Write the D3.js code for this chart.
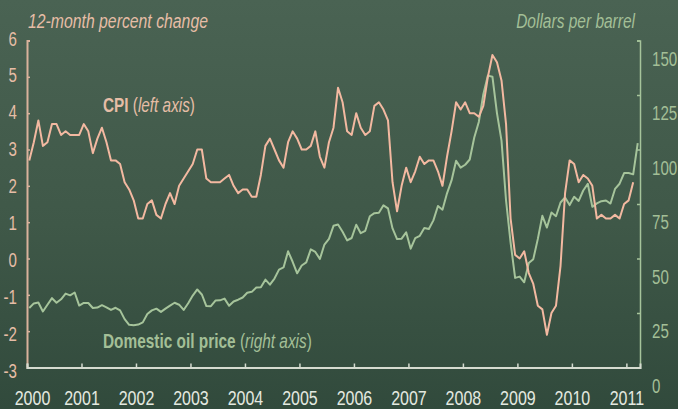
<!DOCTYPE html>
<html>
<head>
<meta charset="utf-8">
<script src="https://cdn.jsdelivr.net/npm/d3@7"></script>
<style>
  html, body { margin: 0; padding: 0; background: #3c5646; }
  svg { display: block; }
  text { font-family: 'Liberation Sans', Arial, sans-serif; }
</style>
</head>
<body>
<svg id="chart" width="678" height="409"></svg>
<script>
// ---- Data (monthly, Jan 2000 onward) ----
const years = [2000, 2001, 2002, 2003, 2004, 2005, 2006, 2007, 2008, 2009, 2010, 2011];
const leftTicks = [-3, -2, -1, 0, 1, 2, 3, 4, 5, 6];
const rightTicks = [0, 25, 50, 75, 100, 125, 150];

// CPI, 12-month percent change (Jan 2000 - Feb 2011)
const cpi = [
  2.7, 3.2, 3.8, 3.1, 3.2, 3.7, 3.7, 3.4, 3.5, 3.4, 3.4, 3.4,
  3.7, 3.5, 2.9, 3.3, 3.6, 3.2, 2.7, 2.7, 2.6, 2.1, 1.9, 1.6,
  1.1, 1.1, 1.5, 1.6, 1.2, 1.1, 1.5, 1.8, 1.5, 2.0, 2.2, 2.4,
  2.6, 3.0, 3.0, 2.2, 2.1, 2.1, 2.1, 2.2, 2.3, 2.0, 1.8, 1.9,
  1.9, 1.7, 1.7, 2.3, 3.1, 3.3, 3.0, 2.7, 2.5, 3.2, 3.5, 3.3,
  3.0, 3.0, 3.1, 3.5, 2.8, 2.5, 3.2, 3.6, 4.7, 4.3, 3.5, 3.4,
  4.0, 3.6, 3.4, 3.5, 4.2, 4.3, 4.1, 3.8, 2.1, 1.3, 2.0, 2.5,
  2.1, 2.4, 2.8, 2.6, 2.7, 2.7, 2.4, 2.0, 2.8, 3.5, 4.3, 4.1,
  4.3, 4.0, 4.0, 3.9, 4.2, 5.0, 5.6, 5.4, 4.9, 3.7, 1.1, 0.1,
  0.0, 0.2, -0.4, -0.7, -1.3, -1.4, -2.1, -1.5, -1.3, -0.2, 1.8, 2.7,
  2.6, 2.1, 2.3, 2.2, 2.0, 1.1, 1.2, 1.1, 1.1, 1.2, 1.1, 1.5,
  1.6, 2.1
];

// Domestic oil price, dollars per barrel (Jan 2000 - Mar 2011)
const oil = [
  27.3, 29.4, 29.8, 25.7, 28.8, 31.8, 29.7, 31.3, 33.9, 33.1, 34.4, 28.4,
  29.6, 29.6, 27.3, 27.5, 28.6, 27.6, 26.4, 27.4, 26.2, 22.2, 19.6, 19.4,
  19.7, 20.7, 24.5, 26.2, 27.0, 25.5, 27.0, 28.4, 29.7, 28.8, 26.4, 29.5,
  33.0, 35.8, 33.5, 28.2, 28.1, 30.7, 30.8, 31.6, 28.3, 30.3, 31.1, 32.1,
  34.3, 34.7, 36.7, 36.8, 40.3, 38.0, 40.8, 44.9, 45.9, 53.3, 48.5, 43.2,
  46.8, 48.2, 54.2, 53.0, 49.8, 56.4, 59.0, 65.0, 65.6, 62.3, 58.3, 59.4,
  65.5, 61.6, 62.7, 69.4, 70.8, 71.0, 74.4, 73.0, 63.8, 58.9, 59.1, 62.0,
  54.5, 59.3, 60.4, 64.0, 63.5, 67.5, 74.1, 72.4, 79.9, 85.8, 94.8, 91.7,
  93.0, 95.4, 105.5, 112.6, 125.4, 133.9, 133.4, 116.7, 104.1, 76.6, 57.3, 41.1,
  41.7, 39.1, 47.9, 49.7, 59.0, 69.6, 64.2, 71.1, 69.4, 75.7, 78.0, 74.5,
  78.3, 76.4, 81.2, 84.3, 73.7, 75.3, 76.3, 76.6, 75.2, 81.9, 84.3, 89.2,
  89.2, 88.6, 102.9
];

// ---- Layout ----
const W = 678, H = 409;
const X0 = 27, X1 = 640, YTOP = 40.5, YBOT = 367.5;
const cpiColor = '#f3b9a1';
const oilColor = '#a6c49b';
const leftText = '#e6bda6';
const rightText = '#a3bf97';
const xText = '#e4e9e0';
const SX = 0.72; // horizontal condensing of the font

const svg = d3.select('#chart');

// background (chalkboard)
const defs = svg.append('defs');
const lg = defs.append('linearGradient').attr('id', 'bg').attr('x1', 0).attr('y1', 0).attr('x2', 0).attr('y2', 1);
lg.append('stop').attr('offset', '0%').attr('stop-color', '#4a6353');
lg.append('stop').attr('offset', '55%').attr('stop-color', '#3f5848');
lg.append('stop').attr('offset', '100%').attr('stop-color', '#314a3c');
svg.append('rect').attr('width', W).attr('height', H).attr('fill', 'url(#bg)');

const x = d3.scaleLinear().domain([2000, 2011.25]).range([X0, X1]);
const yL = d3.scaleLinear().domain([-3, 6]).range([YBOT, YTOP]);
const yR = d3.scaleLinear().domain([0, 150]).range([YBOT, YTOP]);
const mx = i => x(2000 + (i + 0.5) / 12);

// condense a text: move its x/y into a transform with horizontal scaling
function condense(sel, sx) {
  sel.each(function () {
    const t = d3.select(this);
    const tx = +t.attr('x') || 0, ty = +t.attr('y') || 0;
    t.attr('x', 0).attr('y', 0)
     .attr('transform', `translate(${tx},${ty}) scale(${sx},1)`);
  });
}
function fitWidth(sel, target) {
  const len = sel.node().getComputedTextLength();
  condense(sel, target / len);
}

// series lines
svg.append('path')
  .datum(oil)
  .attr('fill', 'none')
  .attr('stroke', oilColor)
  .attr('stroke-width', 2)
  .attr('stroke-linejoin', 'round')
  .attr('d', d3.line().x((d, i) => mx(i)).y(d => yR(d)));

svg.append('path')
  .datum(cpi)
  .attr('fill', 'none')
  .attr('stroke', cpiColor)
  .attr('stroke-width', 2)
  .attr('stroke-linejoin', 'round')
  .attr('d', d3.line().x((d, i) => mx(i)).y(d => yL(d)));

// left axis
const gL = svg.append('g').attr('transform', `translate(${X0},0)`)
  .call(d3.axisLeft(yL).tickValues(leftTicks).tickSize(-3).tickPadding(10).tickFormat(d3.format('d')));
gL.select('.domain').attr('stroke', '#d9b29c').attr('stroke-width', 2);
gL.selectAll('.tick line').attr('stroke', '#d9b29c').attr('stroke-width', 1.5);
gL.selectAll('.tick text')
  .attr('fill', leftText)
  .attr('font-size', 21)
  .attr('dy', null)
  .attr('y', d => 7.5 - 3 + 0.6 * (6 - d))
  .text(d => d < 0 ? '-' + Math.abs(d) : d);
condense(gL.selectAll('.tick text'), SX);

// right axis
const gR = svg.append('g').attr('transform', `translate(${X1},0)`)
  .call(d3.axisRight(yR).tickValues(rightTicks).tickSize(-3).tickPadding(12));
gR.select('.domain').attr('stroke', oilColor).attr('stroke-width', 1.5);
gR.selectAll('.tick line').attr('stroke', oilColor).attr('stroke-width', 1.5);
gR.selectAll('.tick text')
  .attr('fill', rightText)
  .attr('font-size', 21)
  .attr('dy', null)
  .attr('y', 7.5 + 17);
condense(gR.selectAll('.tick text'), SX);

// bottom axis
const gB = svg.append('g').attr('transform', `translate(0,${YBOT})`)
  .call(d3.axisBottom(x).tickValues(years).tickSize(-4).tickPadding(0).tickFormat(d3.format('d')));
gB.select('.domain').attr('stroke', '#d5dbd0').attr('stroke-width', 2);
gB.selectAll('.tick line').attr('stroke', '#d5dbd0').attr('stroke-width', 1.5);
gB.selectAll('.tick text')
  .attr('fill', xText)
  .attr('font-size', 20)
  .attr('dy', null)
  .attr('y', 37)
  .attr('x', d => d === 2000 ? 5 : 0);
condense(gB.selectAll('.tick text'), 0.8);
svg.selectAll('.domain').attr('fill', 'none');

// axis titles
const t1 = svg.append('text').attr('x', 28).attr('y', 28)
  .attr('font-size', 20).attr('font-style', 'italic').attr('fill', leftText)
  .text('12-month percent change');
fitWidth(t1, 180);
const t2 = svg.append('text').attr('x', 635).attr('y', 28).attr('text-anchor', 'end')
  .attr('font-size', 20).attr('font-style', 'italic').attr('fill', rightText)
  .text('Dollars per barrel');
fitWidth(t2, 119);

// series labels
const cpiLab = svg.append('text').attr('x', 103).attr('y', 111.5).attr('font-size', 21).attr('fill', leftText);
cpiLab.append('tspan').attr('font-weight', 'bold').text('CPI');
cpiLab.append('tspan').text(' (');
cpiLab.append('tspan').attr('font-style', 'italic').text('left axis');
cpiLab.append('tspan').text(')');
fitWidth(cpiLab, 92);

const oilLab = svg.append('text').attr('x', 103).attr('y', 347.5).attr('font-size', 21).attr('fill', rightText);
oilLab.append('tspan').attr('font-weight', 'bold').text('Domestic oil price');
oilLab.append('tspan').text(' (');
oilLab.append('tspan').attr('font-style', 'italic').text('right axis');
oilLab.append('tspan').text(')');
fitWidth(oilLab, 209);
</script>
</body>
</html>
